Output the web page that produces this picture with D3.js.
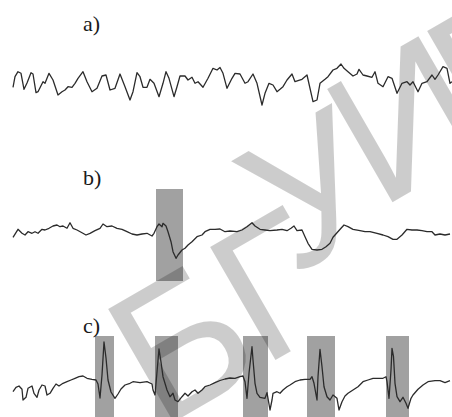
<!DOCTYPE html>
<html><head><meta charset="utf-8">
<script src="https://cdn.jsdelivr.net/npm/d3@7"></script>
<style>html,body{margin:0;padding:0;background:#fff;overflow:hidden}</style>
</head><body>
<script>
// ---- data (time in samples, amplitude in arbitrary units) ----
const panelLabels = ["a)", "b)", "c)"];
const watermarkLetters = ["Б", "Г", "У", "И", "Р"];

const aT = [0,2,5,8,11,14,18,20,23,25,30,32,36,40,45,49,52,55,59,62,65,70,74,79,84,89,93,97,102,107,112,117,120,124,127,130,134,137,141,146,150,153,156,161,164,167,172,175,179,182,185,190,195,200,204,207,210,214,219,222,227,232,235,240,244,249,252,256,260,264,267,270,274,279,282,285,289,294,300,304,307,312,315,320,324,328,331,335,340,344,346,350,354,359,362,365,370,375,379,384,389,394,397,400,405,409,414,419,422,425,430,434,437,439];
const aV = [-5.3,5.3,10.3,8.7,-7.3,-1,9.3,8,-10.7,-9.7,0.3,-1.3,8.7,2,-13,-9.7,-8,-4.7,-5.3,-1.3,3.7,10.3,0.3,-9.7,-6.3,6,7,-8,-6.3,8,-4.7,-18,-9.7,9.3,5.3,-5.3,-5.3,2.7,-1.3,-14.7,-1.3,10.3,3.7,-14.7,-4.7,6,6,2,4.7,-1.3,0.3,-5.3,3.7,13.7,12,14.5,8.7,-6.3,3.7,8.7,8,-1.3,0.3,8,-1.3,-23,-11.3,-1.3,-3,-9.7,-7.3,-4.7,2,8,0.3,1.3,2.7,7,-19.7,-18,-1.3,2.7,5.3,12,13.7,18,13.7,10.3,6,8,12.7,7,6,4.7,10.3,-1.3,-4.7,5.3,3.7,-11.3,-1.3,0.3,-3,0.3,-9.7,-1.3,0.3,7,2.7,7,15.3,13.7,-1.3,0.3];

const bT = [0,5,9,12,15,19,22,25,29,32,36,40,44,47,50,54,57,60,64,69,73,77,82,87,90,94,99,104,109,114,119,124,129,134,139,141,144,146,149,150,153,155,158,160,163,165,169,172,175,179,184,189,192,197,202,207,212,217,224,229,234,239,242,247,252,257,264,269,274,278,281,284,289,292,295,299,304,309,313,317,320,324,328,331,335,340,347,352,357,364,370,375,380,384,389,394,399,404,409,414,419,422,427,432,437];
const bV = [-5.3,2.7,-1.3,-3,0.3,-1.3,0.3,-1.3,2.7,2,3.7,6,7,5.3,6,3.7,9.3,3.7,2,-0.7,-3,-1.3,1.3,3.7,8,5.3,6,3.7,2.7,0.3,-2,-3,-2,-1.3,-4,-1.3,5.3,8,5.3,8.7,6,0.3,-9.7,-19.7,-26.3,-23,-18,-16.3,-13,-9.7,-4.7,-3,0.3,2.7,2.7,3,0.3,1,0.3,2,5.3,9.3,6,2.7,2,1.3,2,2.7,1.3,3.7,6,1.3,2,-4.7,-11.3,-17.3,-18,-17.3,-14.7,-11.3,-5.3,-0.7,3.7,7,5.3,2.7,1.3,0.3,0.3,-1.3,-3,-4.7,-7.3,-7.3,-3,2.7,2,2,1.3,0.3,0.3,-3,-2,-3,-2];

const cT = [0,3,6,9,10,13,15,19,21,24,26,29,32,34,37,40,43,46,50,54,58,62,66,70,74,79,83,85,87,89,91,93,95,98,102,105,108,112,117,120,127,134,139,140,142,144,146,148,150,154,157,160,162,165,169,172,175,179,182,185,189,192,197,202,207,212,217,222,227,230,232,234,236,239,240,242,244,247,252,254,257,259,260,264,267,270,274,277,282,287,292,297,299,301,304,305,307,309,311,314,317,320,324,326,329,332,335,340,345,350,355,360,365,370,373,374,376,378,379,380.5,382,384,387,390,393,395,398,400,405,410,415,422,427,432,437];
const cV = [-11.7,-7.3,-6,-9.3,-20,-17.3,-8.3,-6,-13.3,-17.3,-10,-5,-6,-15,-13.3,-8.3,-4,-6,-3.3,-1.7,0,1.7,3.3,4,1.7,0.7,0,-4,-18,5,38,22,0,-12,-18.3,-14,-9,-5,-3.3,-1.7,-2.7,-1.7,-4,-10,-15,8,31,18,3.3,-10,-16.7,-13.3,-20,-21.7,-16.7,-13.3,-16,-11.7,-10,-13.3,-10,-6.7,-5,-2.7,-0.5,1,2,1.7,3.3,4,-1.7,-18.3,6.7,33.3,20,-3.3,-13.3,-17.3,-18.3,-12.7,-30,-20,-13.3,-11.7,-13.3,-10,-6.7,-5,-1.7,0,0.7,0.7,3.3,-3.3,-20,3.3,30.7,13.3,-6.7,-16.7,-20,-15,-18.3,-30,-21.7,-16,-13.3,-10,-6.7,-1.7,0,1.7,1.7,1.7,3.3,-1.7,-18.3,10,31.7,23.3,-3.3,-16.7,-21.7,-17.3,-23.3,-28.3,-18.3,-15,-9.3,-5,-1.7,-0.7,-0.7,-2.7,-0.7];

// highlighted intervals (samples) and their vertical extent (amplitude units)
const bWindows = [[143,170]];
const bWindowRange = [-49, 43];
const cWindows = [[82,101],[142,165],[230,255],[294,322],[373,396]];
const cWindowRange = [-40, 44];

// ---- layout ----
const W = 452, H = 417;
const wmLayout = [[160,430,-30],[262,368,-30],[292,277,-30],[379,210,-30],[479,152,-30]];

const svg = d3.select("body").append("svg").attr("width", W).attr("height", H);

const x = d3.scaleLinear().domain([0, 439]).range([13, 452]);
const yA = d3.scaleLinear().domain([-40, 40]).range([122, 42]);
const yB = d3.scaleLinear().domain([-60, 60]).range([292, 172]);
const yC = d3.scaleLinear().domain([-40, 40]).range([420, 340]);

function windows(list, range, y) {
  svg.append("g").selectAll("rect").data(list).join("rect")
    .attr("x", d => x(d[0])).attr("width", d => x(d[1]) - x(d[0]))
    .attr("y", y(range[1])).attr("height", y(range[0]) - y(range[1]))
    .attr("fill", "#000").attr("fill-opacity", 0.37);
}
windows(bWindows, bWindowRange, yB);
windows(cWindows, cWindowRange, yC);

// watermark
svg.append("g").selectAll("text").data(watermarkLetters).join("text")
  .attr("transform", (d, i) => `translate(${wmLayout[i][0]},${wmLayout[i][1]}) rotate(${wmLayout[i][2]})`)
  .attr("font-family", "Liberation Sans, Arial, sans-serif")
  .attr("font-size", 190)
  .attr("fill", "#000").attr("fill-opacity", 0.2)
  .text(d => d);

function trace(T, V, y) {
  const line = d3.line().x((d, i) => x(T[i])).y((d, i) => y(V[i]));
  svg.append("path").datum(V).attr("d", line)
    .attr("fill", "none").attr("stroke", "#2b2b2b")
    .attr("stroke-width", 1.3).attr("stroke-linejoin", "round");
}
trace(aT, aV, yA);
trace(bT, bV, yB);
trace(cT, cV, yC);

// labels
const labelY = [31, 185, 333];
svg.append("g").selectAll("text").data(panelLabels).join("text")
  .attr("x", 83).attr("y", (d, i) => labelY[i])
  .attr("font-family", "Liberation Serif, Times New Roman, serif")
  .attr("font-size", 22).attr("fill", "#1a1a1a")
  .text(d => d);
</script>
</body></html>
